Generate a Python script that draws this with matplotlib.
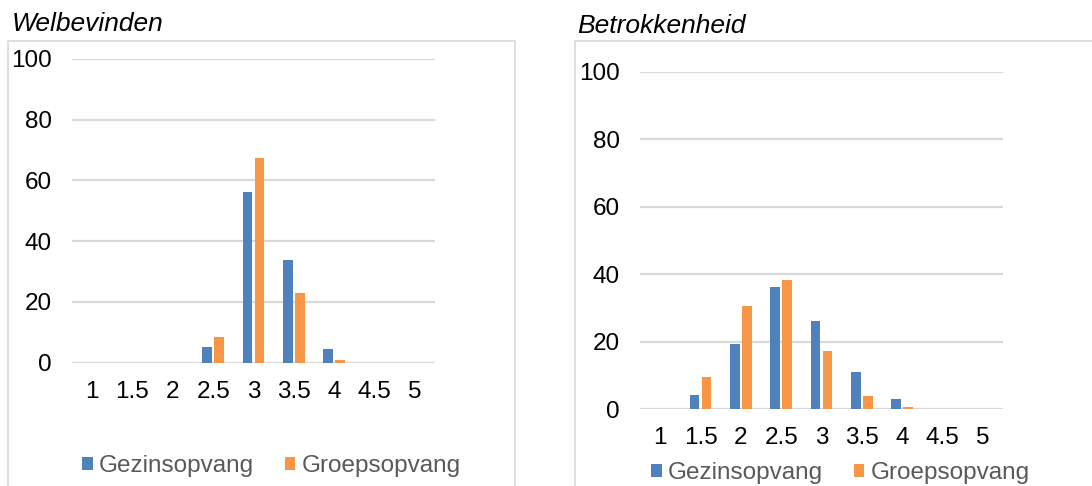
import matplotlib.pyplot as plt
from matplotlib.patches import Rectangle
import numpy as np

plt.rcParams['font.family'] = ['Liberation Sans', 'DejaVu Sans']

categories = ['1', '1.5', '2', '2.5', '3', '3.5', '4', '4.5', '5']
series_names = ['Gezinsopvang', 'Groepsopvang']

welbevinden_gezin = [0, 0, 0, 5.2, 56.2, 33.7, 4.6, 0, 0]
welbevinden_groep = [0, 0, 0, 8.5, 67.4, 23.0, 0.9, 0, 0]

betrokkenheid_gezin = [0, 4.3, 19.3, 36.1, 26.1, 11.1, 3.0, 0, 0]
betrokkenheid_groep = [0, 9.6, 30.7, 38.4, 17.1, 3.8, 0.5, 0, 0]

yticks = [0, 20, 40, 60, 80, 100]

BLUE = '#4F81BD'
ORANGE = '#F79646'
GRID = '#D9D9D9'
W, H = 1092, 486
FS = 17.5


def fx(px):
    return px / W


def fy(py):
    return 1 - py / H


def draw_panel(fig, rect, gezin, groep, title, title_pos, box_rect, legend_pos):
    ax = fig.add_axes(rect)
    x = np.arange(len(categories))
    width = 0.24
    ax.bar(x - 0.145, gezin, width, color=BLUE, label=series_names[0], zorder=3)
    ax.bar(x + 0.145, groep, width, color=ORANGE, label=series_names[1], zorder=3)
    ax.set_xlim(-0.5, len(categories) - 0.5)
    ax.set_ylim(0, 100)
    ax.set_yticks(yticks)
    ax.set_xticks(x)
    ax.set_xticklabels(categories)
    ax.tick_params(length=0, labelsize=FS, colors='black')
    ax.tick_params(axis='y', pad=14.5)
    ax.tick_params(axis='x', pad=13)
    for s in ax.spines.values():
        s.set_visible(False)
    ax.yaxis.grid(True, color=GRID, linewidth=1.6, zorder=0)
    ax.set_axisbelow(True)

    fig.text(fx(title_pos[0]), fy(title_pos[1]), title, fontsize=19,
             style='italic', va='baseline', ha='left')

    x0, y0, x1 = box_rect
    fig.add_artist(Rectangle((fx(x0), -0.1), fx(x1 - x0), fy(y0) + 0.1,
                             transform=fig.transFigure, fill=False,
                             edgecolor=GRID, linewidth=1.2))

    leg = fig.legend(handles=ax.patches[:1] + ax.patches[len(categories):len(categories) + 1],
                     labels=series_names, loc='center left',
                     bbox_to_anchor=(fx(legend_pos[0]), fy(legend_pos[1])),
                     ncol=2, frameon=False, fontsize=FS, handlelength=0.45,
                     handleheight=0.45, handletextpad=0.25, columnspacing=1.25,
                     borderpad=0, borderaxespad=0)
    for t in leg.get_texts():
        t.set_color('#595959')
    return ax


fig = plt.figure(figsize=(W / 100, H / 100), dpi=100)

draw_panel(fig, [fx(72), fy(362.7), fx(363), 303.7 / H],
           welbevinden_gezin, welbevinden_groep, 'Welbevinden', (12, 31),
           (8, 41, 515), (82, 466))

draw_panel(fig, [fx(640), fy(409), fx(363), 337 / H],
           betrokkenheid_gezin, betrokkenheid_groep, 'Betrokkenheid', (577, 33),
           (575, 41, 1200), (651, 473))

fig.savefig('out.png', dpi=100)
